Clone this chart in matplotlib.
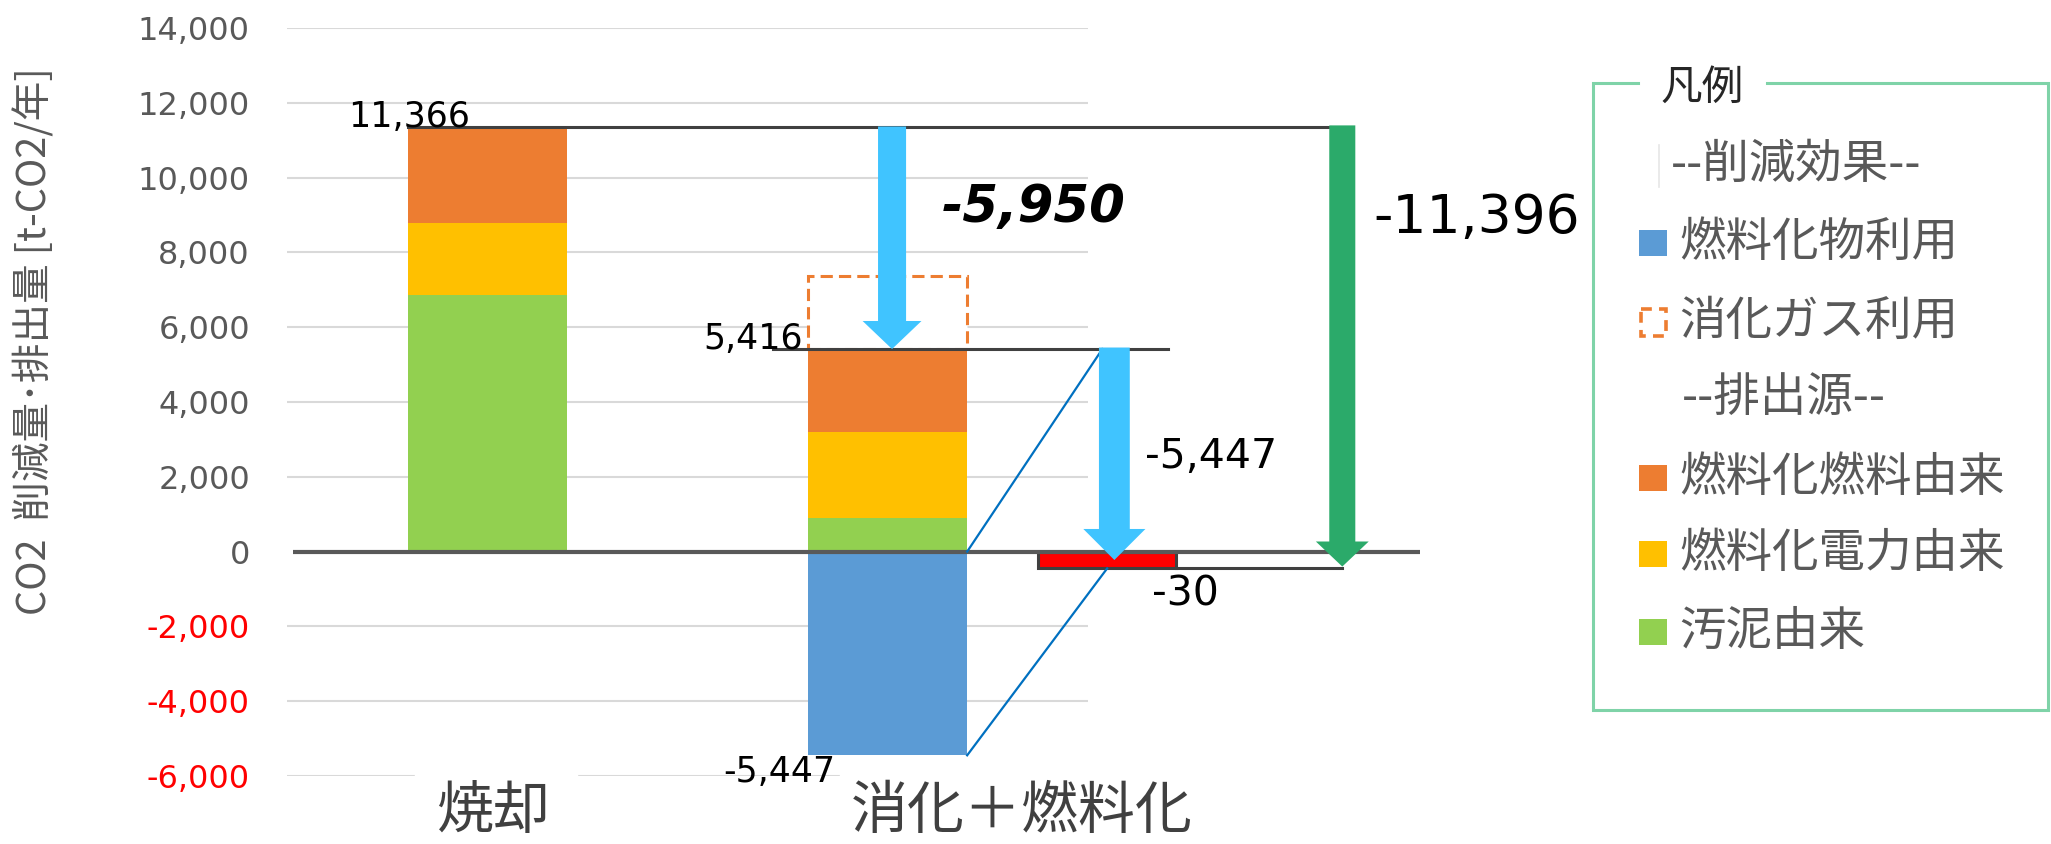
import matplotlib.pyplot as plt
import matplotlib.patches as mpatches
from matplotlib.patches import FancyArrow
from matplotlib.ticker import FuncFormatter

plt.rcParams['font.family'] = ['DejaVu Sans', 'Noto Sans CJK JP']

# ─────────────────────────────────────────────────────────────
# Data (t-CO2/年)
# ─────────────────────────────────────────────────────────────
categories = ['焼却', '消化＋燃料化']
sludge = [6860, 900]             # 汚泥由来
power = [1920, 2290]             # 燃料化電力由来
fuel = [2586, 2226]              # 燃料化燃料由来
fuel_product_use = [0, -5447]    # 燃料化物利用
gas_use = 1940                   # 消化ガス利用 (dashed box)
totals = [11366, 5416]
net_total = -30
reduction_gas = -5950
reduction_fuel = -5447
reduction_all = -11396

legend_labels = ['--削減効果--', '燃料化物利用', '消化ガス利用', '--排出源--',
                 '燃料化燃料由来', '燃料化電力由来', '汚泥由来']
yticks = list(range(-6000, 14001, 2000))

# ─────────────────────────────────────────────────────────────
# Colours
# ─────────────────────────────────────────────────────────────
c_green = '#92D050'
c_yellow = '#FFC000'
c_orange = '#ED7D31'
c_blue = '#5B9BD5'
c_red = '#FF0000'
c_arrow = '#40C4FF'
c_arrow_green = '#2BAA6A'
c_conn = '#0070C0'
c_dark = '#404040'
c_gray = '#595959'
legend_colors = [None, c_blue, c_orange, None, c_orange, c_yellow, c_green]

W, H = 2051, 844
fig = plt.figure(figsize=(W / 100, H / 100), dpi=100)
ax = fig.add_axes([286 / W, 1 - 776 / H, (1420 - 286) / W, (776 - 28) / H])

x = [0, 1]
bw = 0.397
x_red, w_red = 1.548, 0.345
x_arrow1, x_arrow2, x_arrow3 = 1.011, 1.566, 2.135
red_depth = -450   # -30 is drawn deeper so that the bar stays visible

ax.set_xlim(-0.502, 2.329)
ax.set_ylim(-6000, 14000)

# gridlines only across the two categories
ax.hlines([t for t in yticks if t != 0], -0.5, 1.5, color='#D9D9D9', lw=1.5, zorder=1)
# white boxes behind the category labels break the bottom gridline
ax.add_patch(mpatches.Rectangle((-0.18, -6150), 0.405, 300, color='white', zorder=2))
ax.add_patch(mpatches.Rectangle((0.881, -6150), 0.65, 300, color='white', zorder=2))

# ─────────────────────────────────────────────────────────────
# Stacked bars
# ─────────────────────────────────────────────────────────────
bottom = [0, 0]
for vals, col in [(sludge, c_green), (power, c_yellow), (fuel, c_orange)]:
    ax.bar(x, vals, bw, bottom=bottom, color=col, zorder=3)
    bottom = [b + v for b, v in zip(bottom, vals)]
ax.bar(x, fuel_product_use, bw, color=c_blue, zorder=3)
ax.bar(x[1], gas_use, bw, bottom=totals[1], facecolor='white', edgecolor=c_orange,
       linestyle=(0, (4, 2)), linewidth=2.2, zorder=3)
ax.bar(x_red, red_depth, w_red, color=c_red, edgecolor=c_dark, linewidth=2.2, zorder=4)

# reference lines
ax.plot([-bw / 2, x_arrow3 - 0.03], [totals[0]] * 2, color=c_dark, lw=2.2, zorder=4)
ax.plot([0.714, 1.70], [totals[1]] * 2, color=c_dark, lw=2.2, zorder=4)
ax.plot([x_red + w_red / 2, x_arrow3], [red_depth] * 2, color=c_dark, lw=2.2, zorder=4)
ax.plot([-0.484, 2.329], [0, 0], color=c_gray, lw=3, zorder=4, solid_capstyle='butt')

# connector lines
ax.plot([x[1] + bw / 2, x_arrow2 - 0.03], [0, totals[1]], color=c_conn, lw=1.6, zorder=4)
ax.plot([x[1] + bw / 2, x_red], [fuel_product_use[1], red_depth], color=c_conn, lw=1.6, zorder=4)

# arrows
ax.add_patch(FancyArrow(x_arrow1, totals[0], 0, totals[1] - totals[0], width=0.07,
                        head_width=0.147, head_length=750, length_includes_head=True,
                        color=c_arrow, lw=0, zorder=5))
ax.add_patch(FancyArrow(x_arrow2, totals[1] + 40, 0, red_depth / 2 - totals[1] - 40, width=0.077,
                        head_width=0.155, head_length=830, length_includes_head=True,
                        color=c_arrow, lw=0, zorder=5))
ax.add_patch(FancyArrow(x_arrow3, totals[0] + 30, 0, red_depth + 50 - totals[0] - 30, width=0.065,
                        head_width=0.132, head_length=670, length_includes_head=True,
                        color=c_arrow_green, lw=0, zorder=5))

# value labels
ax.text(-0.042, totals[0], f'{totals[0]:,}', fontsize=25, ha='right', va='baseline', zorder=7)
ax.text(0.789, totals[1], f'{totals[1]:,}', fontsize=25, ha='right', va='baseline', zorder=7)
ax.text(0.869, fuel_product_use[1], f'{fuel_product_use[1]:,}', fontsize=25,
        ha='right', va='top', zorder=7)
ax.text(1.136, 8800, f'{reduction_gas:,}', fontsize=37, fontweight='bold',
        fontstyle='italic', ha='left', va='baseline', zorder=7)
ax.text(1.643, 2246, f'{reduction_fuel:,}', fontsize=29.5, ha='left', va='baseline', zorder=7)
ax.text(1.660, -1444, f'{net_total:,}', fontsize=29.5, ha='left', va='baseline', zorder=7)
ax.text(2.212, 8516, f'{reduction_all:,}', fontsize=38.5, ha='left', va='baseline', zorder=7)

# category labels
xt = ax.get_xaxis_transform()
for cx, lab in zip([0.015, 1.336], categories):
    ax.text(cx, -0.0865, lab, transform=xt, fontsize=41, color=c_dark, ha='center',
            va='bottom', family=['Noto Sans CJK JP'], clip_on=False, zorder=6)

# axes styling
for s in ax.spines.values():
    s.set_visible(False)
ax.set_xticks([])
ax.set_yticks(yticks)
ax.yaxis.set_major_formatter(FuncFormatter(lambda v, p: f'{int(v):,}'))
ax.tick_params(axis='y', length=0, pad=26, labelsize=23, labelcolor=c_gray)
for lab, t in zip(ax.get_yticklabels(), yticks):
    if t < 0:
        lab.set_color(c_red)

fig.text(35 / W, 1 - 341 / H, 'CO2  削減量･排出量 [t-CO2/年]', rotation=90, fontsize=28.5,
         color=c_gray, ha='center', va='center', family=['Noto Sans CJK JP', 'DejaVu Sans'])

# ─────────────────────────────────────────────────────────────
# Legend box (drawn in pixel coordinates)
# ─────────────────────────────────────────────────────────────
lg = fig.add_axes([0, 0, 1, 1], zorder=10)
lg.set_xlim(0, W)
lg.set_ylim(H, 0)
lg.axis('off')
c_box = '#7FD3A8'
lg.plot([1638, 1593, 1593, 2048, 2048, 1767], [83, 83, 710, 710, 83, 83],
        color=c_box, lw=2.2, solid_joinstyle='miter')
lg.text(1660, 88, '凡例', fontsize=30, color='#262626', ha='left', va='center',
        family=['Noto Sans CJK JP'])
row_y = [165, 243, 322, 398, 478, 554, 632]
for lab, col, ry in zip(legend_labels, legend_colors, row_y):
    if lab.startswith('--'):
        tx = 1671 if ry == row_y[0] else 1682
        if ry == row_y[0]:
            lg.plot([1659, 1659], [ry - 20, ry + 22], color='#E6E6E6', lw=1.2)
    else:
        tx = 1679
        if lab == '消化ガス利用':
            lg.add_patch(mpatches.Rectangle((1641, ry - 13), 25, 27, facecolor='none',
                                            edgecolor=col, lw=2.6, linestyle=(0, (3, 2))))
        else:
            lg.add_patch(mpatches.Rectangle((1639, ry - 13), 28, 26, facecolor=col, edgecolor='none'))
    lg.text(tx, ry, lab, fontsize=33.5, color=c_gray, ha='left', va='center',
            family=['Noto Sans CJK JP'])

fig.savefig('out.png', dpi=100)
